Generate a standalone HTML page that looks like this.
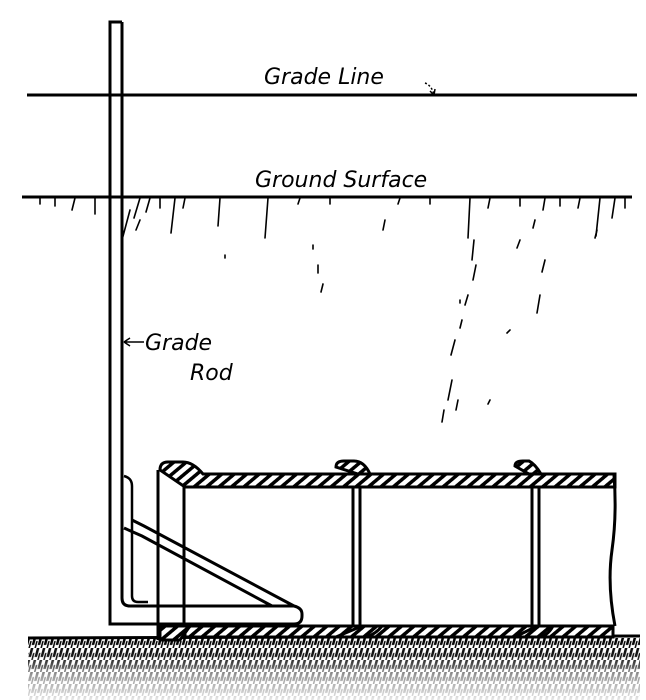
<!DOCTYPE html>
<html><head><meta charset="utf-8"><style>
html,body{margin:0;padding:0;background:#fff;width:646px;height:700px;overflow:hidden}
svg{display:block}
text{font-family:"DejaVu Sans","Liberation Sans",sans-serif;font-style:italic;fill:#000}
</style></head><body>
<svg width="646" height="700" viewBox="0 0 646 700" xmlns="http://www.w3.org/2000/svg">
<defs>
<pattern id="h" width="8" height="8" patternUnits="userSpaceOnUse" patternTransform="rotate(50)">
<rect width="8" height="8" fill="#fff"/><rect x="0" width="3.5" height="8" fill="#000"/>
</pattern>
<pattern id="g" width="6" height="12" patternUnits="userSpaceOnUse" patternTransform="skewX(-15)">
<rect width="6" height="12" fill="#fff"/><rect x="0.5" y="0" width="2.6" height="9" fill="#000"/><rect x="4" y="5" width="1.6" height="7" fill="#000"/>
</pattern>
<linearGradient id="fade" x1="0" y1="0" x2="0" y2="1">
<stop offset="0" stop-color="#fff" stop-opacity="0"/><stop offset="0.3" stop-color="#fff" stop-opacity="0.1"/><stop offset="0.6" stop-color="#fff" stop-opacity="0.6"/><stop offset="1" stop-color="#fff" stop-opacity="0.9"/>
</linearGradient>
</defs>
<!-- ground at bottom -->
<rect x="28" y="638" width="612" height="62" fill="url(#g)"/>
<rect x="28" y="638" width="612" height="62" fill="url(#fade)"/>
<line x1="28" y1="638" x2="640" y2="636" stroke="#000" stroke-width="3"/>
<!-- lines -->
<line x1="27" y1="95" x2="637" y2="95" stroke="#000" stroke-width="3"/>
<line x1="22" y1="197" x2="632" y2="197" stroke="#000" stroke-width="3"/>
<!-- surface ticks -->
<g stroke="#000" stroke-width="1.6" stroke-linecap="round">
<path d="M40 198v6M55 198v8M75 198l-3 12M95 198v16M140 198l-6 20M150 198l-4 14M160 198v10M175 198l-4 35M185 198l-2 10M220 198l-2 28M268 198l-3 40M300 198l-2 6M330 198v6M400 198l-2 6M430 198v6M470 198l-2 40M490 198l-2 10M520 198v8M545 198l-2 12M560 198v8M580 198l-2 10M600 198l-4 38M615 198l-3 20M625 198v10M130 210l-8 30M140 220l-4 10"/>
<path d="M385 220l-2 10M225 255v3M313 245v4M318 265v8M323 284l-2 8M474 240l-2 20M476 265l-3 15M468 295l-3 10M462 320l-2 8M455 340l-4 15M452 380l-4 20M444 410l-2 12M520 240l-3 8M545 260l-3 12M540 295l-3 18M535 220l-2 8M597 230l-2 8M460 300v3M510 330l-3 3M490 400l-2 4M458 400l-2 10"/>
</g>
<!-- labels -->
<text x="264" y="84" font-size="22">Grade Line</text>
<path d="M425 83 q6 2 9 11" fill="none" stroke="#000" stroke-width="1.5" stroke-dasharray="2 2"/>
<path d="M430 91l4 4 1-6" fill="none" stroke="#000" stroke-width="1.5"/>
<text x="255" y="187" font-size="22">Ground Surface</text>
<text x="145" y="350" font-size="22">Grade</text>
<text x="190" y="380" font-size="22">Rod</text>
<path d="M124 342h20M124 342l6-4M124 342l6 4" fill="none" stroke="#000" stroke-width="1.5"/>
<!-- grade rod with foot -->
<path d="M122 22H110V624H294q8 0 8-8v-2q0-6-8-8H130q-8 0-8-8V22" fill="none" stroke="#000" stroke-width="3"/>
<!-- bracket -->
<path d="M124 476q8 2 8 10v110q0 6 6 6h10" fill="none" stroke="#000" stroke-width="2.5"/>
<path d="M124 528l18 8 130 70M132 520l12 6 150 80" fill="none" stroke="#000" stroke-width="3"/>
<!-- pipe top wall -->
<path d="M160 470q0-8 8-8h15q10 0 20 12h412v13H185z" fill="url(#h)" stroke="#000" stroke-width="3"/>
<path d="M336 467q0-6 8-6h10q10 0 16 13h-12z" fill="url(#h)" stroke="#000" stroke-width="3"/>
<path d="M515 466q0-5 8-5h6q6 3 12 13h-12z" fill="url(#h)" stroke="#000" stroke-width="3"/>
<!-- pipe bottom wall -->
<path d="M185 626h428v11H185z" fill="url(#h)" stroke="#000" stroke-width="3"/>
<path d="M160 626h30l-10 14h-20z" fill="url(#h)" stroke="#000" stroke-width="3"/>
<path d="M336 637h30q10-3 16-11h-20z" fill="url(#h)" stroke="#000" stroke-width="3"/>
<path d="M515 637h26q8-3 12-11h-16z" fill="url(#h)" stroke="#000" stroke-width="3"/>
<!-- vertical pipe walls -->
<g stroke="#000" stroke-width="3" fill="none">
<path d="M158 470v170M184 487v139"/>
<path d="M353 487v139M360 487v139"/>
<path d="M532 487v139M539 487v139"/>
<path d="M614 475q3 40-2 75t3 76"/>
</g>
</svg>
</body></html>
